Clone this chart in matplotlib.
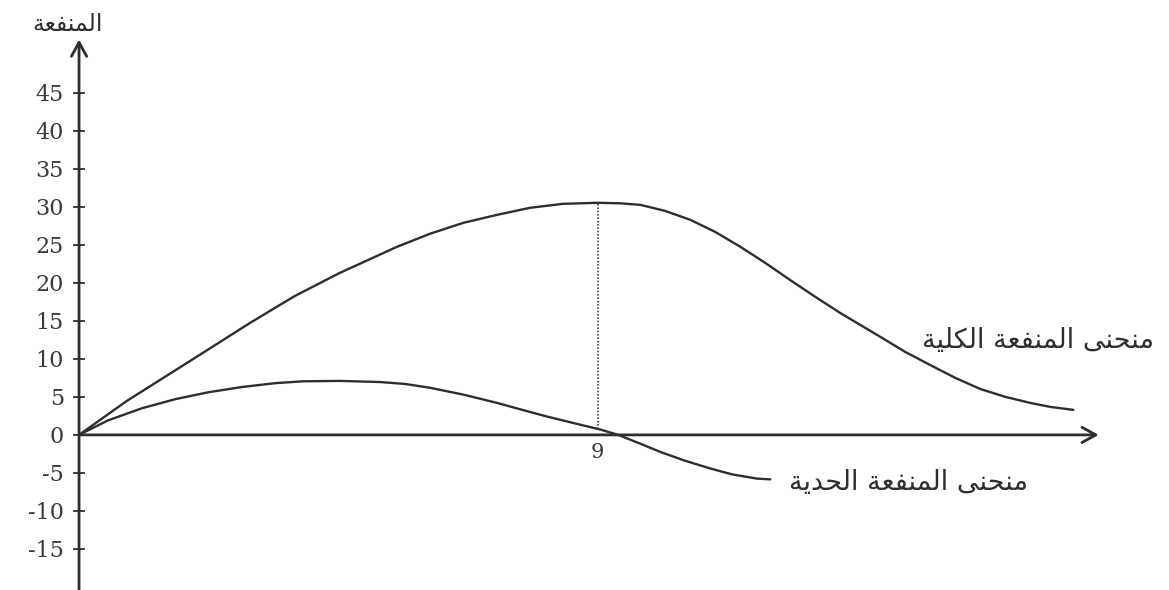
import numpy as np
from matplotlib import pyplot as plt

# total utility curve
tu_x = [0.00, 0.83, 1.49, 2.15, 2.97, 3.75, 4.53, 5.52, 6.09, 6.67, 7.26, 7.83, 8.40, 9.00,
        9.39, 9.74, 10.17, 10.61, 11.04, 11.48, 11.91, 12.34, 12.78, 13.21, 13.56, 13.91,
        14.34, 14.77, 15.21, 15.64, 16.08, 16.51, 16.86, 17.26]
tu_y = [0.0, 4.47, 7.63, 10.79, 14.74, 18.29, 21.32, 24.74, 26.45, 27.89, 28.95, 29.87, 30.39, 30.53,
        30.46, 30.26, 29.47, 28.29, 26.71, 24.74, 22.63, 20.39, 18.16, 16.05, 14.47, 12.89,
        10.92, 9.21, 7.5, 6.05, 5.0, 4.21, 3.68, 3.29]

# marginal utility curve
mu_x = [0.00, 0.50, 1.09, 1.67, 2.24, 2.83, 3.40, 3.89, 4.53, 5.23, 5.66, 6.09, 6.67, 7.26,
        7.69, 8.13, 8.56, 9.05, 9.36, 9.74, 10.09, 10.52, 10.95, 11.34, 11.77, 12.00]
mu_y = [0.0, 1.9, 3.5, 4.7, 5.6, 6.3, 6.8, 7.05, 7.1, 6.95, 6.7, 6.2, 5.3, 4.2,
        3.3, 2.4, 1.6, 0.7, 0.0, -1.15, -2.24, -3.4, -4.4, -5.2, -5.75, -5.85]

y_ticks = [-15, -10, -5, 0, 5, 10, 15, 20, 25, 30, 35, 40, 45]
x_mark = 9

y_title = "المنفعة"
tu_label = "منحنى المنفعة الكلية"
mu_label = "منحنى المنفعة الحدية"

# matplotlib does no arabic shaping, so pick the presentation forms by hand
FORMS = {
    'ا': ('\uFE8D', '\uFE8E'),
    'د': ('\uFEA9', '\uFEAA'),
    'ة': ('\uFE93', '\uFE94'),
    'ى': ('\uFEEF', '\uFEF0'),
    'ل': ('\uFEDD', '\uFEDE', '\uFEDF', '\uFEE0'),
    'م': ('\uFEE1', '\uFEE2', '\uFEE3', '\uFEE4'),
    'ن': ('\uFEE5', '\uFEE6', '\uFEE7', '\uFEE8'),
    'ح': ('\uFEA1', '\uFEA2', '\uFEA3', '\uFEA4'),
    'ف': ('\uFED1', '\uFED2', '\uFED3', '\uFED4'),
    'ع': ('\uFEC9', '\uFECA', '\uFECB', '\uFECC'),
    'ك': ('\uFED9', '\uFEDA', '\uFEDB', '\uFEDC'),
    'ي': ('\uFEF1', '\uFEF2', '\uFEF3', '\uFEF4'),
}

def shape(text):
    out = []
    prev_joins = False
    i = 0
    n = len(text)
    while i < n:
        c = text[i]
        if c not in FORMS:
            out.append(c)
            prev_joins = False
            i += 1
            continue
        if c == 'ل' and i + 1 < n and text[i + 1] == 'ا':
            out.append('\uFEFC' if prev_joins else '\uFEFB')
            prev_joins = False
            i += 2
            continue
        f = FORMS[c]
        nxt = text[i + 1] if i + 1 < n else ''
        next_joins = len(f) == 4 and nxt in FORMS
        if prev_joins and next_joins:
            g = f[3]
        elif prev_joins:
            g = f[1]
        elif next_joins:
            g = f[2]
        else:
            g = f[0]
        out.append(g)
        prev_joins = len(f) == 4
        i += 1
    return ''.join(reversed(out))

ink = '#2e2e2e'
fig = plt.figure(figsize=(11.69, 5.90), dpi=100)
ax = fig.add_axes([0, 0, 1, 1])
ax.set_xlim(-1.372, 18.92)
ax.set_ylim(-20.4, 57.2)

for side in ['top', 'right']:
    ax.spines[side].set_visible(False)
ax.spines['left'].set_position(('data', 0))
ax.spines['bottom'].set_position(('data', 0))
ax.spines['left'].set_visible(False)
ax.spines['bottom'].set_visible(False)

# axes with arrow heads
arrow = dict(arrowstyle='->,head_length=1.0,head_width=0.55', lw=2.0, color=ink, shrinkA=0, shrinkB=0)
ax.annotate('', xy=(17.7, 0), xytext=(0, 0), arrowprops=arrow)
ax.annotate('', xy=(0, 52), xytext=(0, -20.4), arrowprops=arrow)

ax.set_yticks(y_ticks)
ax.set_yticklabels([str(v) if v >= 0 else '-' + str(-v) for v in y_ticks],
                   family='DejaVu Serif', fontsize=16, color='#3a3a3a')
ax.tick_params(axis='y', direction='inout', length=8, width=1.3, color=ink, pad=7)
ax.set_xticks([x_mark])
ax.set_xticklabels([str(x_mark)], family='DejaVu Serif', fontsize=15, color='#3a3a3a')
ax.tick_params(axis='x', length=0, pad=6)

ax.plot(tu_x, tu_y, color=ink, lw=1.7, solid_capstyle='round', solid_joinstyle='round')
ax.plot(mu_x, mu_y, color=ink, lw=1.7, solid_capstyle='round', solid_joinstyle='round')

top = np.interp(x_mark, tu_x, tu_y)
bottom = np.interp(x_mark, mu_x, mu_y)
ax.plot([x_mark, x_mark], [bottom, top], color='#444444', lw=1.2, ls=(0, (1, 1)))

ax.text(-0.19, 54.0, shape(y_title), family='DejaVu Sans', fontsize=17, color=ink,
        ha='center', va='center')
ax.text(16.65, 12.4, shape(tu_label), family='DejaVu Sans', fontsize=19.5, color=ink,
        ha='center', va='center')
ax.text(14.4, -6.3, shape(mu_label), family='DejaVu Sans', fontsize=19.5, color=ink,
        ha='center', va='center')

fig.savefig('out.png', dpi=100, facecolor='white')
